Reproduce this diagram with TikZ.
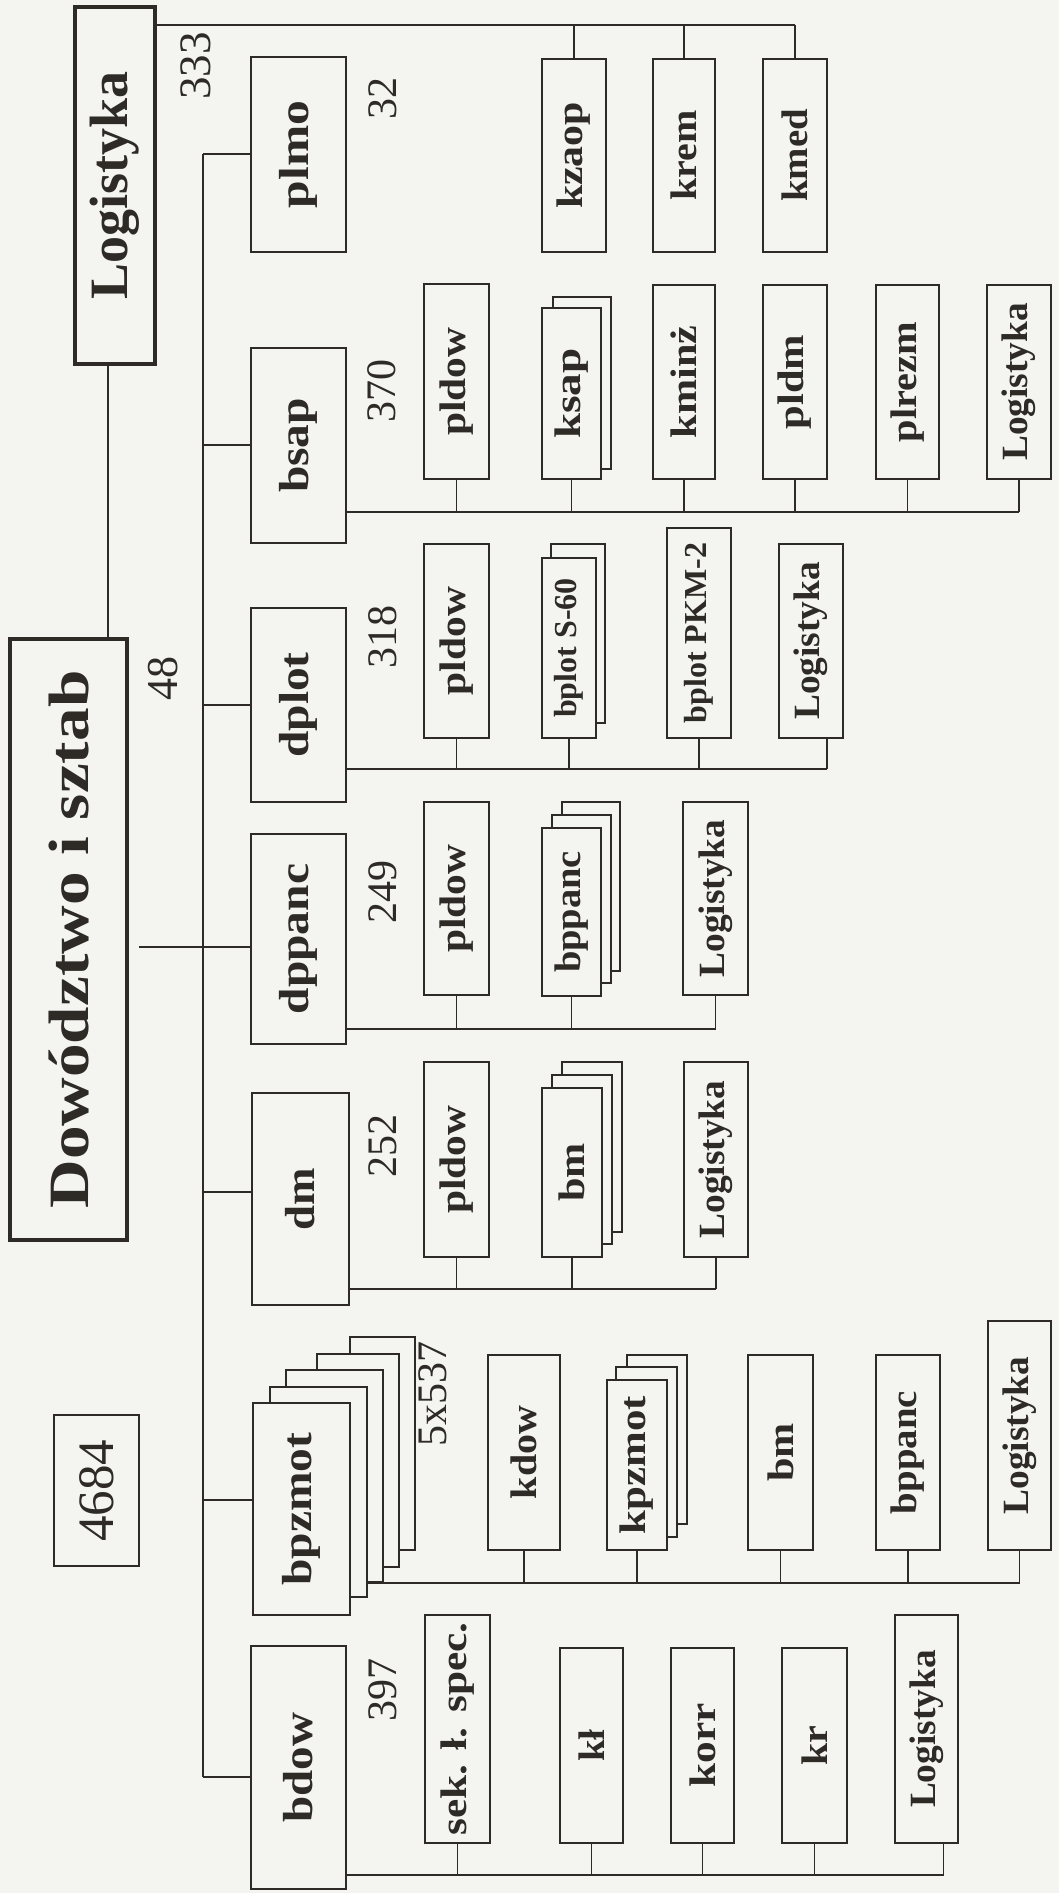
\documentclass[tikz,border=0pt]{standalone}
\usepackage{fontspec}
\setmainfont{Liberation Serif}
\usepackage{graphicx}
\definecolor{ink}{HTML}{2E2A26}
\definecolor{paper}{HTML}{F4F5F0}
\pgfdeclarelayer{paperl}
\pgfdeclarelayer{lines}
\pgfsetlayers{paperl,lines,main}
\tikzset{
  box/.style={draw=ink,fill=paper,text=ink,inner sep=0pt,outer sep=0pt,line width=0.9pt},
  bxmid/.style={line width=1.45pt},
  bxthickA/.style={line width=1.75pt},
  bxthickB/.style={line width=2.1pt},
  numtxt/.style={text=ink,inner sep=0pt},
  cline/.style={draw=ink,line width=0.9pt},
}
% box: [style]{name}{x1}{y1}{x2}{y2}{content}  (pixel coordinates, y downward)
\newcommand\bx[7][]{\node[box,#1,minimum width={(#5-#3)*0.5pt},minimum height={(#6-#4)*0.5pt}] (#2) at ({(#3+#5)/2},{(#4+#6)/2}) {#7};}
\newcommand\lbl[3]{{\fontsize{#1}{#1}\selectfont\bfseries\scalebox{#2}[1]{#3}}}
\newcommand\rl[3]{\rotatebox{90}{\lbl{#1}{#2}{#3}}}
\newcommand\nm[2]{\rotatebox{90}{\fontsize{#1}{#1}\selectfont #2}}
\begin{document}
\begin{tikzpicture}[x=0.5pt,y=-0.5pt]
\begin{pgfonlayer}{paperl}
\fill[paper] (0,0) rectangle (1059,1893);
\end{pgfonlayer}
\useasboundingbox (0,0) rectangle (1059,1893);

% ---- level 0
\bx[bxthickA]{LogT}{75}{7}{155}{364}{\rl{27pt}{1}{Logistyka}}
\bx[bxthickB]{Dow}{10}{639}{127}{1240}{\rl{28.5pt}{1.18}{Dowództwo i sztab}}
\bx{N4684}{54}{1415}{139}{1566}{\nm{25.5pt}{4684}}

% ---- level 1
\bx{plmo}{251}{57}{346}{252}{\rl{21pt}{1.18}{plmo}}
\bx{bsap}{251}{348}{346}{543}{\rl{21pt}{1.13}{bsap}}
\bx{dplot}{251}{608}{346}{802}{\rl{21pt}{1.13}{dplot}}
\bx{dppanc}{251}{834}{346}{1044}{\rl{21pt}{1.13}{dppanc}}
\bx[bxmid]{dm}{252}{1093}{349}{1305}{\rl{21pt}{1.07}{dm}}
\bx[bxmid]{bpz5}{350}{1337}{415}{1550}{}
\bx[bxmid]{bpz4}{317}{1354}{399}{1567}{}
\bx[bxmid]{bpz3}{286}{1370}{383}{1582}{}
\bx[bxmid]{bpz2}{270}{1387}{367}{1597}{}
\bx[bxmid]{bpzmot}{253}{1403}{350}{1615}{\rl{21pt}{1.13}{bpzmot}}
\bx[bxmid]{bdow}{251}{1646}{346}{1889}{\rl{21pt}{1.12}{bdow}}

% ---- children of top Logistyka
\bx{kzaop}{542}{59}{606}{252}{\rl{18.5pt}{1.13}{kzaop}}
\bx{krem}{653}{59}{715}{252}{\rl{18.5pt}{1.08}{krem}}
\bx{kmed}{763}{59}{827}{252}{\rl{18.5pt}{1.05}{kmed}}

% ---- bsap row
\bx{pldowA}{424}{284}{489}{479}{\rl{18.5pt}{1.12}{pldow}}
\bx{ksapb}{553}{297}{611}{469}{}
\bx{ksap}{542}{308}{601}{479}{\rl{18.5pt}{1.22}{ksap}}
\bx{kminz}{653}{285}{715}{479}{\rl{18.5pt}{1.14}{kminż}}
\bx{pldm}{763}{285}{827}{479}{\rl{18.5pt}{1.15}{pldm}}
\bx{plrezm}{876}{285}{939}{479}{\rl{18.5pt}{1.09}{plrezm}}
\bx{LgA}{987}{285}{1051}{479}{\rl{18.5pt}{1.01}{Logistyka}}

% ---- dplot row
\bx{pldowB}{424}{544}{489}{738}{\rl{18.5pt}{1.12}{pldow}}
\bx{bs60b}{551}{544}{605}{723}{}
\bx{bs60}{542}{558}{596}{738}{\rl{16pt}{1.0}{bplot S-60}}
\bx{bpkm}{667}{528}{731}{738}{\rl{16pt}{1.0}{bplot PKM-2}}
\bx{LgB}{779}{544}{843}{738}{\rl{18.5pt}{1.01}{Logistyka}}

% ---- dppanc row
\bx{pldowC}{424}{802}{489}{995}{\rl{18.5pt}{1.12}{pldow}}
\bx{bpp3}{562}{802}{620}{971}{}
\bx{bpp2}{552}{815}{611}{983}{}
\bx{bppanc}{542}{828}{601}{996}{\rl{18.5pt}{1.04}{bppanc}}
\bx{LgC}{683}{802}{748}{995}{\rl{18.5pt}{1.01}{Logistyka}}

% ---- dm row
\bx{pldowD}{424}{1062}{489}{1257}{\rl{18.5pt}{1.12}{pldow}}
\bx{bm3}{562}{1062}{622}{1232}{}
\bx{bm2}{552}{1075}{612}{1244}{}
\bx{bmA}{542}{1088}{602}{1257}{\rl{18.5pt}{1.14}{bm}}
\bx{LgD}{684}{1062}{748}{1257}{\rl{18.5pt}{1.01}{Logistyka}}

% ---- bpzmot row
\bx{kdow}{488}{1355}{560}{1550}{\rl{18.5pt}{1.08}{kdow}}
\bx{kpz3}{627}{1355}{687}{1524}{}
\bx{kpz2}{616}{1367}{677}{1537}{}
\bx{kpzmot}{607}{1380}{667}{1550}{\rl{18.5pt}{1.16}{kpzmot}}
\bx{bmB}{748}{1355}{813}{1550}{\rl{18.5pt}{1.14}{bm}}
\bx{bppB}{876}{1355}{940}{1550}{\rl{18.5pt}{1.05}{bppanc}}
\bx{LgE}{988}{1321}{1051}{1550}{\rl{18.5pt}{1.01}{Logistyka}}

% ---- bdow row
\bx{sek}{425}{1615}{490}{1843}{\rl{18.5pt}{1.17}{sek. ł. spec.}}
\bx{kl}{560}{1648}{623}{1843}{\rl{18.5pt}{1.05}{kł}}
\bx{korr}{671}{1648}{734}{1843}{\rl{18.5pt}{1.17}{korr}}
\bx{kr}{782}{1648}{847}{1843}{\rl{18.5pt}{1.08}{kr}}
\bx{LgF}{895}{1615}{958}{1843}{\rl{18.5pt}{1.01}{Logistyka}}

% ---- numbers
\node[numtxt] (t333) at (196,66) {\nm{22.5pt}{333}};
\node[numtxt] (t32) at (383,99) {\nm{21pt}{32}};
\node[numtxt] (t370) at (382,391) {\nm{21pt}{370}};
\node[numtxt] (t48) at (163,678) {\nm{22pt}{48}};
\node[numtxt] (t318) at (383,637) {\nm{21pt}{318}};
\node[numtxt] (t249) at (383,892) {\nm{21pt}{249}};
\node[numtxt] (t252) at (383,1146) {\nm{21pt}{252}};
\node[numtxt] (t5x) at (433,1394) {\nm{21pt}{5x537}};
\node[numtxt] (t397) at (383,1690) {\nm{21pt}{397}};

% ---- connectors
\begin{pgfonlayer}{lines}
% top Logistyka bus
\coordinate (tb) at (0,25);
\draw[cline] (LogT.east |- tb) -- (kmed.north |- tb);
\foreach \n in {kzaop,krem,kmed} \draw[cline] (\n.north) -- (\n.north |- tb);
% Logistyka - Dowodztwo
\coordinate (lx) at (108,0);
\draw[cline] (lx |- LogT.south) -- (lx |- Dow.north);
% Dowodztwo - spine
\coordinate (dowR) at ([xshift=6pt]Dow.east);
\coordinate (dy) at (0,947);
\draw[cline] (dowR |- dy) -- (dppanc.west |- dy);
% spine
\coordinate (spT) at (203,154);
\coordinate (spB) at (203,1777);
\draw[cline] (spT) -- (spB);
\draw[cline] (spT) -- (plmo.west |- spT);
\coordinate (s2) at (203,445);  \draw[cline] (s2) -- (bsap.west |- s2);
\coordinate (s3) at (203,705);  \draw[cline] (s3) -- (dplot.west |- s3);
\coordinate (s5) at (203,1192); \draw[cline] (s5) -- (dm.west |- s5);
\coordinate (s6) at (203,1500); \draw[cline] (s6) -- (bpzmot.west |- s6);
\draw[cline] (spB) -- (bdow.west |- spB);
% bsap bus
\coordinate (b1) at (0,512);
\draw[cline] (bsap.east |- b1) -- (LgA.south |- b1);
\foreach \n in {pldowA,ksap,kminz,pldm,plrezm,LgA} \draw[cline] (\n.south) -- (\n.south |- b1);
% dplot bus
\coordinate (b2) at (0,769);
\coordinate (LgBd) at ([xshift=8pt]LgB.south);
\draw[cline] (dplot.east |- b2) -- (LgBd |- b2);
\foreach \n in {pldowB,bs60,bpkm} \draw[cline] (\n.south) -- (\n.south |- b2);
\draw[cline] (LgBd) -- (LgBd |- b2);
% dppanc bus
\coordinate (b3) at (0,1029);
\draw[cline] (dppanc.east |- b3) -- (LgC.south |- b3);
\foreach \n in {pldowC,bppanc,LgC} \draw[cline] (\n.south) -- (\n.south |- b3);
% dm bus
\coordinate (b4) at (0,1289);
\draw[cline] (dm.east |- b4) -- (LgD.south |- b4);
\foreach \n in {pldowD,bmA,LgD} \draw[cline] (\n.south) -- (\n.south |- b4);
% bpzmot bus
\coordinate (b5) at (0,1583);
\draw[cline] (bpzmot.east |- b5) -- (LgE.south |- b5);
\foreach \n in {kdow,kpzmot,bmB,bppB,LgE} \draw[cline] (\n.south) -- (\n.south |- b5);
% bdow bus
\coordinate (b6) at (0,1875);
\coordinate (LgFd) at ([xshift=8.5pt]LgF.south);
\draw[cline] (bdow.east |- b6) -- (LgFd |- b6);
\foreach \n in {sek,kl,korr,kr} \draw[cline] (\n.south) -- (\n.south |- b6);
\draw[cline] (LgFd) -- (LgFd |- b6);
\end{pgfonlayer}
\end{tikzpicture}
\end{document}
